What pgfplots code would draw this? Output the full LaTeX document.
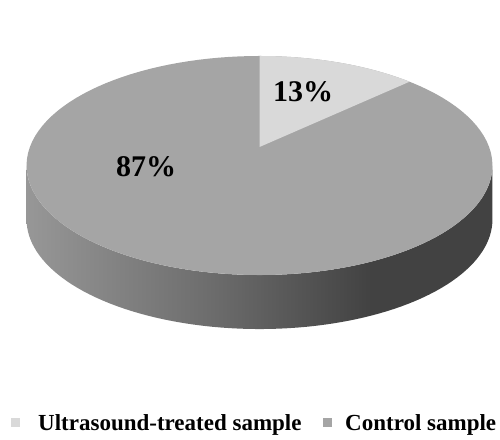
\documentclass[border=0pt]{standalone}
\usepackage{pgfplots}
\pgfplotsset{compat=1.18}
\usepackage{pgfplotstable}
\usepackage{fontspec}
\setmainfont{Liberation Serif}

\definecolor{ctop}{HTML}{A5A5A5}
\definecolor{utop}{HTML}{D9D9D9}
\definecolor{sA}{HTML}{979797}
\definecolor{sB}{HTML}{6C6C6C}
\definecolor{sC}{HTML}{424242}
\pgfdeclarehorizontalshading{sideshade}{100bp}{color(0bp)=(sA); color(25bp)=(sA); color(45bp)=(sB); color(62bp)=(sC); color(100bp)=(sC)}

\pgfplotstableread{
label value
Ultrasound 13
Control 87
}\piedata
\pgfplotstablegetelem{0}{value}\of\piedata \let\vU\pgfplotsretval
\pgfplotstablegetelem{1}{value}\of\piedata \let\vC\pgfplotsretval
\pgfmathsetmacro\angU{360*\vU/(\vU+\vC)}

% projection of the pie (perspective view), pixel coordinates
\def\cx{259.5}\def\cy{147}\def\A{229.6}\def\B{106.4}\def\e{0.169}\def\dep{54}
\pgfmathsetmacro\aR{acos(-\e)}
\pgfmathsetmacro\aL{360-\aR}

\begin{document}
\begin{tikzpicture}
\begin{axis}[width=500pt,height=439pt,scale only axis,hide axis,
  xmin=0,xmax=500,ymin=0,ymax=439,y dir=reverse,clip=false]
\path (axis cs:0,0) rectangle (axis cs:500,439);
% front side
\path[shading=sideshade]
  (axis cs:{\cx+\A*sin(\aR)/(1+\e*cos(\aR))},{\cy-\B*cos(\aR)/(1+\e*cos(\aR))})
  \foreach \i in {0,...,80}{ -- (axis cs:{\cx+\A*sin(\aR+(\aL-\aR)*\i/80)/(1+\e*cos(\aR+(\aL-\aR)*\i/80))},{\cy-\B*cos(\aR+(\aL-\aR)*\i/80)/(1+\e*cos(\aR+(\aL-\aR)*\i/80))})}
  \foreach \i in {0,...,80}{ -- (axis cs:{\cx+\A*sin(\aL-(\aL-\aR)*\i/80)/(1+\e*cos(\aL-(\aL-\aR)*\i/80))},{\cy+\dep-\B*cos(\aL-(\aL-\aR)*\i/80)/(1+\e*cos(\aL-(\aL-\aR)*\i/80))})}
  -- cycle;
% top: control sample
\fill[ctop] (axis cs:{\cx},{\cy-\B/(1+\e)})
  \foreach \i in {1,...,120}{ -- (axis cs:{\cx+\A*sin(3*\i)/(1+\e*cos(3*\i))},{\cy-\B*cos(3*\i)/(1+\e*cos(3*\i))})} -- cycle;
% top: ultrasound-treated sample
\fill[utop] (axis cs:{\cx},{\cy})
  \foreach \i in {0,...,30}{ -- (axis cs:{\cx+\A*sin(\angU*\i/30)/(1+\e*cos(\angU*\i/30))},{\cy-\B*cos(\angU*\i/30)/(1+\e*cos(\angU*\i/30))})} -- cycle;
% labels
\node[anchor=base,font=\fontsize{30}{36}\selectfont\bfseries] at (axis cs:303,101) {\vU\%};
\node[anchor=base,font=\fontsize{30}{36}\selectfont\bfseries] at (axis cs:146,176) {\vC\%};
% legend
\fill[utop] (axis cs:11,418) rectangle (axis cs:20,427);
\node[anchor=base west,inner sep=0pt,font=\fontsize{23}{27}\selectfont\bfseries] at (axis cs:38,430) {Ultrasound-treated sample};
\fill[ctop] (axis cs:323,418) rectangle (axis cs:332,427);
\node[anchor=base west,inner sep=0pt,font=\fontsize{23}{27}\selectfont\bfseries] at (axis cs:345,430) {Control sample};
\end{axis}
\end{tikzpicture}
\end{document}
